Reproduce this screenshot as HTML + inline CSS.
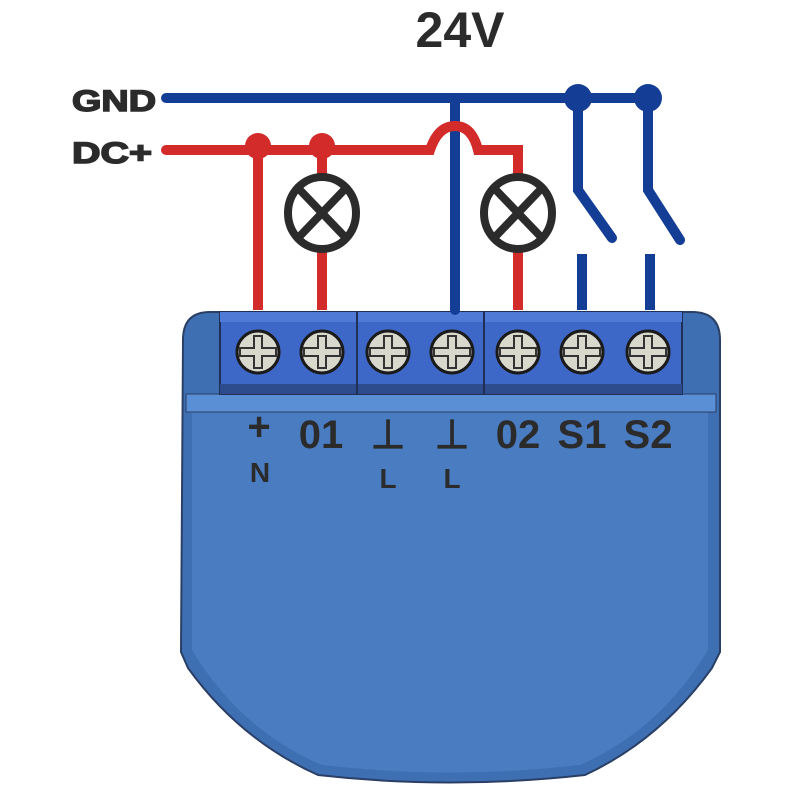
<!DOCTYPE html>
<html><head><meta charset="utf-8"><style>
html,body{margin:0;padding:0;background:#fff;}
svg{display:block;}
text{font-family:"Liberation Sans",sans-serif;font-weight:bold;}
</style></head><body>
<svg width="800" height="800" viewBox="0 0 800 800">
<text x="460" y="47" font-size="50" fill="#2b2b2b" text-anchor="middle">24V</text>
<text x="72" y="111" font-size="30" fill="#2b2b2b" stroke="#2b2b2b" stroke-width="1.5" textLength="84" lengthAdjust="spacingAndGlyphs">GND</text>
<text x="72" y="163" font-size="30" fill="#2b2b2b" stroke="#2b2b2b" stroke-width="1.5" textLength="80" lengthAdjust="spacingAndGlyphs">DC+</text>

<path d="M183,340 Q183,312 210,312 L692,312 Q720,312 720,340 L720,652 L712,668 Q660,740 585,775 Q450,790 318,775 Q240,740 188,668 L181,652 Z" fill="#3f6fb3" stroke="#2a3f66" stroke-width="2"/>
<path d="M192,412 L708,412 L708,650 Q660,730 580,765 Q450,780 322,765 Q240,730 192,650 Z" fill="#4a7cc2"/>
<rect x="186" y="394" width="530" height="18" fill="#5a8fd6" stroke="#2a3f66" stroke-width="1"/>
<rect x="220" y="312" width="462" height="82" fill="#3e68c8" stroke="#1f2f55" stroke-width="2"/>
<rect x="220" y="312" width="462" height="10" fill="#4f7ad6"/>
<rect x="220" y="384" width="462" height="10" fill="#2d4c8e"/>
<line x1="357" y1="312" x2="357" y2="394" stroke="#1f2f55" stroke-width="2"/>
<line x1="484" y1="312" x2="484" y2="394" stroke="#1f2f55" stroke-width="2"/>
<g stroke="#1a1a1a" stroke-width="3" fill="#d8d8cc">
<circle cx="258" cy="352" r="21"/><circle cx="322" cy="352" r="21"/><circle cx="388" cy="352" r="21"/><circle cx="452" cy="352" r="21"/><circle cx="518" cy="352" r="21"/><circle cx="582" cy="352" r="21"/><circle cx="648" cy="352" r="21"/>
</g>
<g stroke="#333" stroke-width="2" fill="none">
<path d="M254,336 h8 v12 h14 v8 h-14 v12 h-8 v-12 h-14 v-8 h14 z"/>
<path d="M318,336 h8 v12 h14 v8 h-14 v12 h-8 v-12 h-14 v-8 h14 z"/>
<path d="M384,336 h8 v12 h14 v8 h-14 v12 h-8 v-12 h-14 v-8 h14 z"/>
<path d="M448,336 h8 v12 h14 v8 h-14 v12 h-8 v-12 h-14 v-8 h14 z"/>
<path d="M514,336 h8 v12 h14 v8 h-14 v12 h-8 v-12 h-14 v-8 h14 z"/>
<path d="M578,336 h8 v12 h14 v8 h-14 v12 h-8 v-12 h-14 v-8 h14 z"/>
<path d="M644,336 h8 v12 h14 v8 h-14 v12 h-8 v-12 h-14 v-8 h14 z"/>
</g>
<g fill="#2b2b2b" font-size="40" text-anchor="middle">
<text x="259" y="440">+</text>
<text x="321" y="448">01</text>
<text x="388" y="448">⊥</text>
<text x="452" y="448">⊥</text>
<text x="518" y="448">02</text>
<text x="582" y="448">S1</text>
<text x="648" y="448">S2</text>
</g>
<g fill="#2b2b2b" font-size="28" text-anchor="middle">
<text x="260" y="482">N</text>
<text x="388" y="488">L</text>
<text x="452" y="488">L</text>
</g>

<g stroke="#143e96" stroke-width="10" fill="none" stroke-linecap="round">
<line x1="166" y1="98" x2="648" y2="98"/>
<line x1="455" y1="98" x2="455" y2="310"/>
<path d="M578,98 V190 L612,238"/>
<path d="M648,98 V190 L680,240"/>
<line x1="582" y1="254" x2="582" y2="310" stroke-linecap="butt"/>
<line x1="650" y1="254" x2="650" y2="310" stroke-linecap="butt"/>
</g>
<circle cx="578" cy="98" r="14" fill="#143e96"/>
<circle cx="648" cy="98" r="14" fill="#143e96"/>
<g stroke="#d32a2a" stroke-width="10" fill="none" stroke-linecap="round">
<path d="M166,150 H430 Q438,126 455,126 Q472,126 478,150 H518 V176"/>
<line x1="258" y1="150" x2="258" y2="310" stroke-linecap="butt"/>
<line x1="322" y1="150" x2="322" y2="176"/>
<line x1="322" y1="250" x2="322" y2="310" stroke-linecap="butt"/>
<line x1="518" y1="250" x2="518" y2="310" stroke-linecap="butt"/>
</g>
<circle cx="258" cy="146" r="13" fill="#d32a2a"/>
<circle cx="322" cy="146" r="13" fill="#d32a2a"/>
<g stroke="#2b2b2b" stroke-width="8" fill="none">
<ellipse cx="322" cy="213" rx="34" ry="36"/>
<line x1="299" y1="189" x2="345" y2="237"/><line x1="345" y1="189" x2="299" y2="237"/>
<ellipse cx="518" cy="213" rx="34" ry="36"/>
<line x1="495" y1="189" x2="541" y2="237"/><line x1="541" y1="189" x2="495" y2="237"/>
</g>
</svg>
</body></html>
